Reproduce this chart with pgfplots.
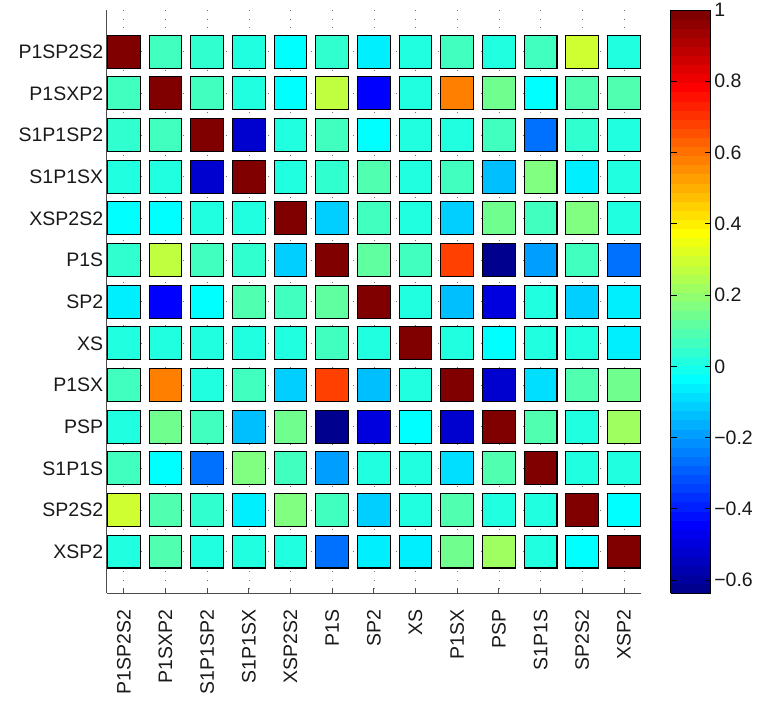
\documentclass[border=0pt]{standalone}
\usepackage{pgfplots}
\pgfplotsset{compat=1.18}
\usepackage{pgfplotstable}
\usepackage{fontspec}
\setmainfont{Liberation Sans}

\pgfplotsset{
  colormap={jetsixtyfour}{
rgb(0pt)=(0,0,0.5625)
rgb(1pt)=(0,0,0.625)
rgb(2pt)=(0,0,0.6875)
rgb(3pt)=(0,0,0.75)
rgb(4pt)=(0,0,0.8125)
rgb(5pt)=(0,0,0.875)
rgb(6pt)=(0,0,0.9375)
rgb(7pt)=(0,0,1)
rgb(8pt)=(0,0.0625,1)
rgb(9pt)=(0,0.125,1)
rgb(10pt)=(0,0.1875,1)
rgb(11pt)=(0,0.25,1)
rgb(12pt)=(0,0.3125,1)
rgb(13pt)=(0,0.375,1)
rgb(14pt)=(0,0.4375,1)
rgb(15pt)=(0,0.5,1)
rgb(16pt)=(0,0.5625,1)
rgb(17pt)=(0,0.625,1)
rgb(18pt)=(0,0.6875,1)
rgb(19pt)=(0,0.75,1)
rgb(20pt)=(0,0.8125,1)
rgb(21pt)=(0,0.875,1)
rgb(22pt)=(0,0.9375,1)
rgb(23pt)=(0,1,1)
rgb(24pt)=(0.0625,1,0.9375)
rgb(25pt)=(0.125,1,0.875)
rgb(26pt)=(0.1875,1,0.8125)
rgb(27pt)=(0.25,1,0.75)
rgb(28pt)=(0.3125,1,0.6875)
rgb(29pt)=(0.375,1,0.625)
rgb(30pt)=(0.4375,1,0.5625)
rgb(31pt)=(0.5,1,0.5)
rgb(32pt)=(0.5625,1,0.4375)
rgb(33pt)=(0.625,1,0.375)
rgb(34pt)=(0.6875,1,0.3125)
rgb(35pt)=(0.75,1,0.25)
rgb(36pt)=(0.8125,1,0.1875)
rgb(37pt)=(0.875,1,0.125)
rgb(38pt)=(0.9375,1,0.0625)
rgb(39pt)=(1,1,0)
rgb(40pt)=(1,0.9375,0)
rgb(41pt)=(1,0.875,0)
rgb(42pt)=(1,0.8125,0)
rgb(43pt)=(1,0.75,0)
rgb(44pt)=(1,0.6875,0)
rgb(45pt)=(1,0.625,0)
rgb(46pt)=(1,0.5625,0)
rgb(47pt)=(1,0.5,0)
rgb(48pt)=(1,0.4375,0)
rgb(49pt)=(1,0.375,0)
rgb(50pt)=(1,0.3125,0)
rgb(51pt)=(1,0.25,0)
rgb(52pt)=(1,0.1875,0)
rgb(53pt)=(1,0.125,0)
rgb(54pt)=(1,0.0625,0)
rgb(55pt)=(1,0,0)
rgb(56pt)=(0.9375,0,0)
rgb(57pt)=(0.875,0,0)
rgb(58pt)=(0.8125,0,0)
rgb(59pt)=(0.75,0,0)
rgb(60pt)=(0.6875,0,0)
rgb(61pt)=(0.625,0,0)
rgb(62pt)=(0.5625,0,0)
rgb(63pt)=(0.5,0,0)
rgb(64pt)=(0.5,0,0)
  }
}

\pgfplotstableread{
x y c
1 1 1
2 1 0.06
3 1 0.03
4 1 0.01
5 1 -0.025
6 1 0.05
7 1 -0.07
8 1 0.003
9 1 0.057
10 1 0.02
11 1 0.057
12 1 0.30
13 1 0.003
1 2 0.06
2 2 1
3 2 0.06
4 2 0.01
5 2 -0.025
6 2 0.27
7 2 -0.445
8 2 0.02
9 2 0.58
10 2 0.131
11 2 -0.025
12 2 0.08
13 2 0.089
1 3 0.03
2 3 0.06
3 3 1
4 3 -0.52
5 3 0.028
6 3 0.057
7 3 -0.025
8 3 0.003
9 3 0.028
10 3 0.057
11 3 -0.26
12 3 0.035
13 3 0.028
1 4 0.01
2 4 0.01
3 4 -0.52
4 4 1
5 4 0.017
6 4 0.041
7 4 0.08
8 4 0.028
9 4 0.057
10 4 -0.14
11 4 0.169
12 4 -0.06
13 4 0.005
1 5 -0.025
2 5 -0.025
3 5 0.028
4 5 0.017
5 5 1
6 5 -0.111
7 5 0.057
8 5 0.005
9 5 -0.111
10 5 0.137
11 5 0.057
12 5 0.169
13 5 0.028
1 6 0.05
2 6 0.27
3 6 0.057
4 6 0.041
5 6 -0.111
6 6 1
7 6 0.11
8 6 0.057
9 6 0.68
10 6 -0.637
11 6 -0.192
12 6 0.057
13 6 -0.278
1 7 -0.07
2 7 -0.445
3 7 -0.025
4 7 0.08
5 7 0.057
6 7 0.11
7 7 1
8 7 0.028
9 7 -0.127
10 7 -0.495
11 7 0.01
12 7 -0.111
13 7 -0.055
1 8 0.003
2 8 0.02
3 8 0.003
4 8 0.028
5 8 0.005
6 8 0.057
7 8 0.028
8 8 1
9 8 0.028
10 8 -0.025
11 8 0.01
12 8 0.01
13 8 -0.063
1 9 0.057
2 9 0.58
3 9 0.028
4 9 0.057
5 9 -0.111
6 9 0.68
7 9 -0.127
8 9 0.028
9 9 1
10 9 -0.52
11 9 -0.087
12 9 0.089
13 9 0.135
1 10 0.02
2 10 0.131
3 10 0.057
4 10 -0.14
5 10 0.137
6 10 -0.637
7 10 -0.495
8 10 -0.025
9 10 -0.52
10 10 1
11 10 0.089
12 10 0.028
13 10 0.22
1 11 0.057
2 11 -0.025
3 11 -0.26
4 11 0.169
5 11 0.057
6 11 -0.192
7 11 0.01
8 11 0.01
9 11 -0.087
10 11 0.089
11 11 1
12 11 0.028
13 11 0.028
1 12 0.30
2 12 0.08
3 12 0.035
4 12 -0.06
5 12 0.169
6 12 0.057
7 12 -0.111
8 12 0.01
9 12 0.089
10 12 0.028
11 12 0.028
12 12 1
13 12 -0.025
1 13 0.003
2 13 0.089
3 13 0.028
4 13 0.005
5 13 0.028
6 13 -0.278
7 13 -0.055
8 13 -0.063
9 13 0.135
10 13 0.22
11 13 0.028
12 13 -0.025
13 13 1
}\corrdata

\begin{document}
\begin{tikzpicture}
\useasboundingbox (0,0) rectangle (758pt,702pt);
\begin{axis}[
  at={(106.7pt,108.7pt)}, anchor=south west,
  scale only axis, width=534.3pt, height=583.3pt,
  xmin=0.59, xmax=13.41, ymin=0, ymax=14, y dir=reverse,
  axis x line*=bottom, axis y line*=left,
  axis line style={black!70, line width=0.8pt},
  xtick={1,...,13}, ytick={1,...,13},
  xticklabels={P1SP2S2,P1SXP2,S1P1SP2,S1P1SX,XSP2S2,P1S,SP2,XS,P1SX,PSP,S1P1S,SP2S2,XSP2},
  yticklabels={P1SP2S2,P1SXP2,S1P1SP2,S1P1SX,XSP2S2,P1S,SP2,XS,P1SX,PSP,S1P1S,SP2S2,XSP2},
  tick align=inside, major tick length=5pt,
  tick style={black!70, line width=0.8pt},
  ticklabel style={font=\fontsize{19.5}{23}\selectfont, text=black!90},
  xticklabel style={rotate=90, anchor=east},
  xticklabel shift=13pt,
  grid=major,
  major grid style={black!55, line width=0.6pt, dash pattern=on 0.7pt off 7.8pt},
  clip=false,
  colormap name=jetsixtyfour, colormap access=piecewise constant,
  point meta min=-0.637, point meta max=1,
  colorbar,
  colorbar style={
    at={(parent axis.north east)}, anchor=north west, xshift=21.2pt,
    width=40pt,
    ytick={-0.6,-0.4,-0.2,0,0.2,0.4,0.6,0.8,1},
    yticklabels={−0.6,−0.4,−0.2,0,0.2,0.4,0.6,0.8,1},
    ytick pos=both, yticklabel pos=right,
    tick align=inside, major tick length=6pt,
    tick style={black, line width=0.8pt},
    axis line style={black, line width=0.8pt},
    yticklabel style={font=\fontsize{19.5}{23}\selectfont, text=black!90},
  },
]
\addplot[scatter, only marks, point meta=explicit, mark=square*, mark size=16.4pt,
  scatter/use mapped color={draw=black, fill=mapped color},
  mark options={line width=1.1pt}]
  table[x=x, y=y, meta=c] {\corrdata};
\end{axis}
\end{tikzpicture}
\end{document}
